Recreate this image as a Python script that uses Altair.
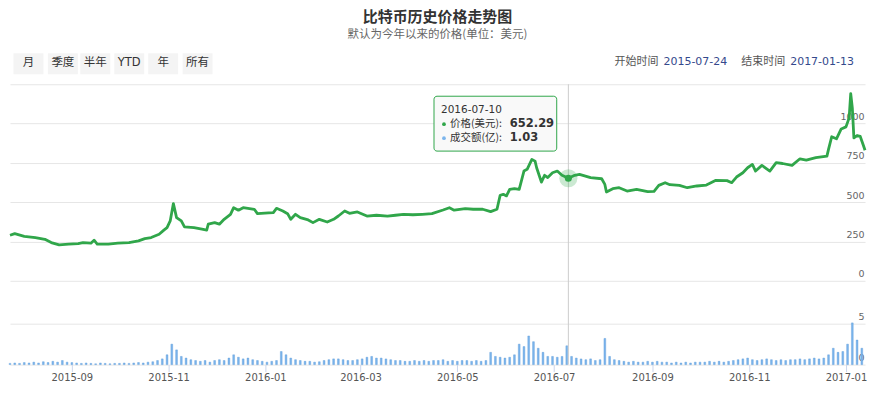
import altair as alt
import pandas as pd

FONT = "DejaVu Sans, Noto Sans CJK SC"
CJK = "Noto Sans CJK SC"

title_text = "比特币历史价格走势图"
subtitle_text = "默认为今年以来的价格(单位：美元)"
range_buttons = ["月", "季度", "半年", "YTD", "年", "所有"]
start_date = "2015-07-24"
end_date = "2017-01-13"

price_dates = [
    "2015-07-24", "2015-07-27", "2015-08-02", "2015-08-09", "2015-08-15", "2015-08-19",
    "2015-08-24", "2015-08-30", "2015-09-05", "2015-09-08", "2015-09-13", "2015-09-15",
    "2015-09-17", "2015-09-24", "2015-09-30", "2015-10-07", "2015-10-13", "2015-10-17",
    "2015-10-21", "2015-10-26", "2015-10-29", "2015-10-31", "2015-11-02", "2015-11-04",
    "2015-11-06", "2015-11-09", "2015-11-11", "2015-11-17", "2015-11-22", "2015-11-25",
    "2015-11-26", "2015-11-30", "2015-12-03", "2015-12-06", "2015-12-10", "2015-12-12",
    "2015-12-15", "2015-12-18", "2015-12-21", "2015-12-25", "2015-12-27", "2016-01-03",
    "2016-01-06", "2016-01-08", "2016-01-12", "2016-01-15", "2016-01-17", "2016-01-20",
    "2016-01-23", "2016-01-28", "2016-01-31", "2016-02-04", "2016-02-09", "2016-02-13",
    "2016-02-16", "2016-02-20", "2016-02-23", "2016-02-28", "2016-03-05", "2016-03-11",
    "2016-03-18", "2016-03-23", "2016-03-28", "2016-04-03", "2016-04-09", "2016-04-15",
    "2016-04-22", "2016-04-26", "2016-04-29", "2016-05-06", "2016-05-11", "2016-05-17",
    "2016-05-22", "2016-05-26", "2016-05-28", "2016-05-30", "2016-06-01", "2016-06-03",
    "2016-06-06", "2016-06-09", "2016-06-12", "2016-06-14", "2016-06-17", "2016-06-19",
    "2016-06-20", "2016-06-23", "2016-06-25", "2016-06-27", "2016-06-30", "2016-07-03",
    "2016-07-06", "2016-07-10", "2016-07-14", "2016-07-17", "2016-07-24", "2016-07-31",
    "2016-08-02", "2016-08-03", "2016-08-07", "2016-08-11", "2016-08-16", "2016-08-22",
    "2016-08-29", "2016-09-02", "2016-09-05", "2016-09-09", "2016-09-12", "2016-09-18",
    "2016-09-23", "2016-09-29", "2016-10-05", "2016-10-11", "2016-10-18", "2016-10-21",
    "2016-10-24", "2016-10-28", "2016-10-31", "2016-11-03", "2016-11-05", "2016-11-09",
    "2016-11-14", "2016-11-18", "2016-11-22", "2016-11-28", "2016-12-03", "2016-12-07",
    "2016-12-13", "2016-12-20", "2016-12-21", "2016-12-23", "2016-12-26", "2016-12-29",
    "2017-01-01", "2017-01-03", "2017-01-04", "2017-01-05", "2017-01-06", "2017-01-08",
    "2017-01-10", "2017-01-12", "2017-01-13",
]
price_values = [
    290, 300, 283, 275, 264, 243,
    228, 233, 237, 243, 239, 258,
    233, 233, 239, 243, 254, 268,
    275, 296, 322, 338, 381, 491,
    402, 381, 343, 338, 328, 322,
    360, 370, 360, 391, 423, 465,
    449, 465, 461, 455, 427, 432,
    434, 461, 444, 427, 391, 423,
    402, 387, 370, 391, 374, 391,
    412, 444, 429, 438, 412, 417,
    412, 417, 423, 420, 423, 427,
    450, 465, 449, 459, 455, 455,
    440, 455, 544, 550, 540, 582,
    586, 582, 698, 709, 772, 761,
    719, 628, 671, 657, 687, 698,
    671, 652.29, 671, 677, 656, 649,
    613, 565, 586, 592, 571, 582,
    567, 569, 607, 624, 611, 607,
    592, 603, 609, 639, 637, 624,
    660, 687, 719, 740, 698, 734,
    698, 751, 746, 734, 776, 768,
    783, 793, 836, 916, 903, 966,
    979, 1036, 1191, 1100, 909, 924,
    918, 860, 830,
]

# trading volume (亿), one bar every 3 days from the start date
volume_values = [
    0.15, 0.2, 0.15, 0.25, 0.2, 0.3, 0.2, 0.35, 0.25, 0.4, 0.3, 0.5, 0.3,
    0.25, 0.2, 0.15, 0.2, 0.15, 0.1, 0.2, 0.15, 0.1, 0.15,
    0.15, 0.2, 0.15, 0.2, 0.25, 0.2, 0.3, 0.35, 0.5, 0.7,
    1.2, 2.5, 1.8, 1.0, 0.8, 0.6, 0.5, 0.4, 0.5, 0.3,
    0.5, 0.6, 0.5, 0.8, 1.2, 0.9, 0.7, 0.8, 0.6, 0.5, 0.4,
    0.3, 0.4, 0.5, 1.6, 1.2, 0.8, 0.6, 0.5, 0.4, 0.4,
    0.3, 0.35, 0.5, 0.6, 0.7, 0.7, 0.6, 0.5, 0.5, 0.6,
    0.7, 0.9, 1.0, 0.8, 0.8, 0.7, 0.6, 0.5, 0.5, 0.4,
    0.4, 0.5, 0.4, 0.5, 0.4, 0.5, 0.5, 0.6, 0.4, 0.5,
    0.4, 0.5, 0.5, 0.4, 0.5, 0.4, 0.5, 1.5, 1.0, 0.9,
    0.8, 0.9, 1.2, 2.5, 2.2, 3.5, 2.8, 2.0, 1.5, 1.0,
    1.0, 0.9, 1.0, 2.3, 1.0, 0.8, 0.7, 0.6, 0.7, 0.5, 0.6,
    3.2, 1.0, 0.6, 0.5, 0.4, 0.3, 0.4, 0.3, 0.3, 0.4,
    0.3, 0.4, 0.3, 0.3, 0.2, 0.3, 0.2, 0.3, 0.2, 0.3,
    0.3, 0.3, 0.4, 0.3, 0.4, 0.3, 0.4, 0.5, 0.6, 0.7,
    0.8, 0.6, 0.5, 0.6, 0.7, 0.6, 0.5, 0.6, 0.5, 0.6,
    0.6, 0.7, 0.6, 0.7, 0.8, 0.7, 0.8, 1.2, 2.0, 1.5, 1.6,
    2.5, 5.1, 3.0, 2.0,
]
volume_dates = pd.date_range(start_date, periods=len(volume_values), freq="3D").strftime("%Y-%m-%d").tolist()

tooltip_date = "2016-07-10"
tooltip_price = price_values[price_dates.index(tooltip_date)]
tooltip_volume = 1.03

price_ticks = [0, 250, 500, 750, 1000, 1250]
volume_ticks = [0, 5]
month_ticks = [(2015, 9), (2015, 11), (2016, 1), (2016, 3), (2016, 5), (2016, 7), (2016, 9), (2016, 11), (2017, 1)]

W, H = 857, 281
GREEN = "#30a64a"
BLUE = "#7cb5ec"

price_df = pd.DataFrame({"date": price_dates, "price": price_values})
vol_df = pd.DataFrame({"date": volume_dates, "volume": volume_values})
tip_df = pd.DataFrame({"date": [tooltip_date], "price": [tooltip_price]})
one = pd.DataFrame({"a": [0]})

def dt(s):
    y, m, d = [int(v) for v in s.split("-")]
    return alt.DateTime(year=y, month=m, date=d, utc=True)

xscale = alt.Scale(type="utc", domain=[dt(start_date), dt(end_date)], nice=False, padding=0)
xaxis = alt.Axis(
    values=[alt.DateTime(year=y, month=m, date=1, utc=True) for y, m in month_ticks],
    format="%Y-%m", title=None, grid=False, domain=False, tickColor="#ccd6eb",
    tickSize=7, labelPadding=1, labelFontSize=10, labelColor="#555", labelFont=FONT,
)

price_scale = alt.Scale(domain=[0, 1250], range=[197, 0], nice=False, zero=False)
vol_scale = alt.Scale(domain=[0, 5], range=[281, 240], nice=False, zero=False)

def yaxis(vals, hide_top=False):
    kw = dict(
        orient="right", values=vals, title=None, grid=True, gridColor="#e6e6e6",
        domain=False, ticks=False, tickSize=0, labelAlign="right", labelPadding=-1,
        labelBaseline="middle", labelOffset=-7, labelFontSize=9.5, labelColor="#666",
        labelFont=FONT, labelOverlap=False, format="d",
    )
    if hide_top:
        kw["labelExpr"] = "datum.value == 1250 ? '' : datum.label"
    return alt.Axis(**kw)

line = alt.Chart(price_df).mark_line(color=GREEN, strokeWidth=2.8, strokeJoin="round").encode(
    x=alt.X("date:T", scale=xscale, axis=xaxis),
    y=alt.Y("price:Q", scale=price_scale, axis=yaxis(price_ticks, True)),
)

bars = alt.Chart(vol_df).mark_bar(color=BLUE, width=1.8, stroke="#5a9bd8", strokeWidth=0.4).encode(
    x=alt.X("date:T", scale=xscale),
    y=alt.Y("volume:Q", scale=vol_scale, axis=yaxis(volume_ticks)),
)

cross = alt.Chart(tip_df).mark_rule(color="#cccccc", strokeWidth=1).encode(
    x=alt.X("date:T", scale=xscale), y=alt.value(0), y2=alt.value(H),
)
halo = alt.Chart(tip_df).mark_circle(color=GREEN, opacity=0.25, size=330).encode(
    x=alt.X("date:T", scale=xscale), y=alt.Y("price:Q", scale=price_scale, axis=None),
)
dot = alt.Chart(tip_df).mark_circle(color=GREEN, opacity=1, size=50).encode(
    x=alt.X("date:T", scale=xscale), y=alt.Y("price:Q", scale=price_scale, axis=None),
)

layers = [bars, cross, line, halo, dot]

# tooltip box
layers.append(alt.Chart(one).mark_rect(fill="#f9f9f9", fillOpacity=0.92, stroke=GREEN, strokeWidth=1, cornerRadius=3).encode(
    x=alt.value(425), x2=alt.value(548), y=alt.value(12), y2=alt.value(67)))
def txt(s, x, y, size=11, color="#333", weight="normal", align="left", font=FONT):
    return alt.Chart(one).mark_text(text=s, align=align, baseline="middle", fontSize=size,
                                    color=color, fontWeight=weight, font=font).encode(
        x=alt.value(x), y=alt.value(y))
layers.append(txt(tooltip_date, 432, 26, 10.5))
layers.append(alt.Chart(one).mark_circle(color=GREEN, size=14, opacity=1).encode(x=alt.value(435), y=alt.value(40)))
layers.append(txt("价格(美元):", 441, 40, 10.5, font=CJK))
layers.append(txt(f"{tooltip_price:.2f}", 501, 40, 11.5, weight="bold"))
layers.append(alt.Chart(one).mark_circle(color=BLUE, size=14, opacity=1).encode(x=alt.value(435), y=alt.value(54)))
layers.append(txt("成交额(亿):", 441, 54, 10.5, font=CJK))
layers.append(txt(f"{tooltip_volume:.2f}", 501, 54, 11.5, weight="bold"))

# range selector buttons
button_centers = [18.5, 53, 85.5, 119.5, 153.5, 188]
for lab, cx in zip(range_buttons, button_centers):
    layers.append(alt.Chart(one).mark_rect(fill="#f4f4f4").encode(
        x=alt.value(cx - 15), x2=alt.value(cx + 15), y=alt.value(-31), y2=alt.value(-10)))
    layers.append(txt(lab, cx, -21, 11.5, color="#333", align="center", font=FONT))

# date inputs
layers.append(txt("开始时间", 650, -22, 11, color="#555", align="right", font=CJK))
layers.append(txt(start_date, 655, -22, 11, color="#34498c"))
layers.append(txt("结束时间", 777, -22, 11, color="#555", align="right", font=CJK))
layers.append(txt(end_date, 782, -22, 11, color="#34498c"))

# white spacer fixing the top edge of the chart frame
layers.append(alt.Chart(one).mark_rect(fill="white").encode(
    x=alt.value(0), x2=alt.value(1), y=alt.value(-76), y2=alt.value(-75)))

# titles
layers.append(txt(title_text, W / 2, -67, 15, color="#333", weight="bold", align="center", font=CJK))
layers.append(txt(subtitle_text, W / 2, -49, 11.5, color="#666", align="center", font=CJK))

chart = alt.layer(*layers).resolve_scale(y="independent").properties(
    width=W, height=H, background="white", padding=0
).configure_view(stroke=None)

chart.save("out.html", embed_options={"renderer": "svg", "actions": False})
